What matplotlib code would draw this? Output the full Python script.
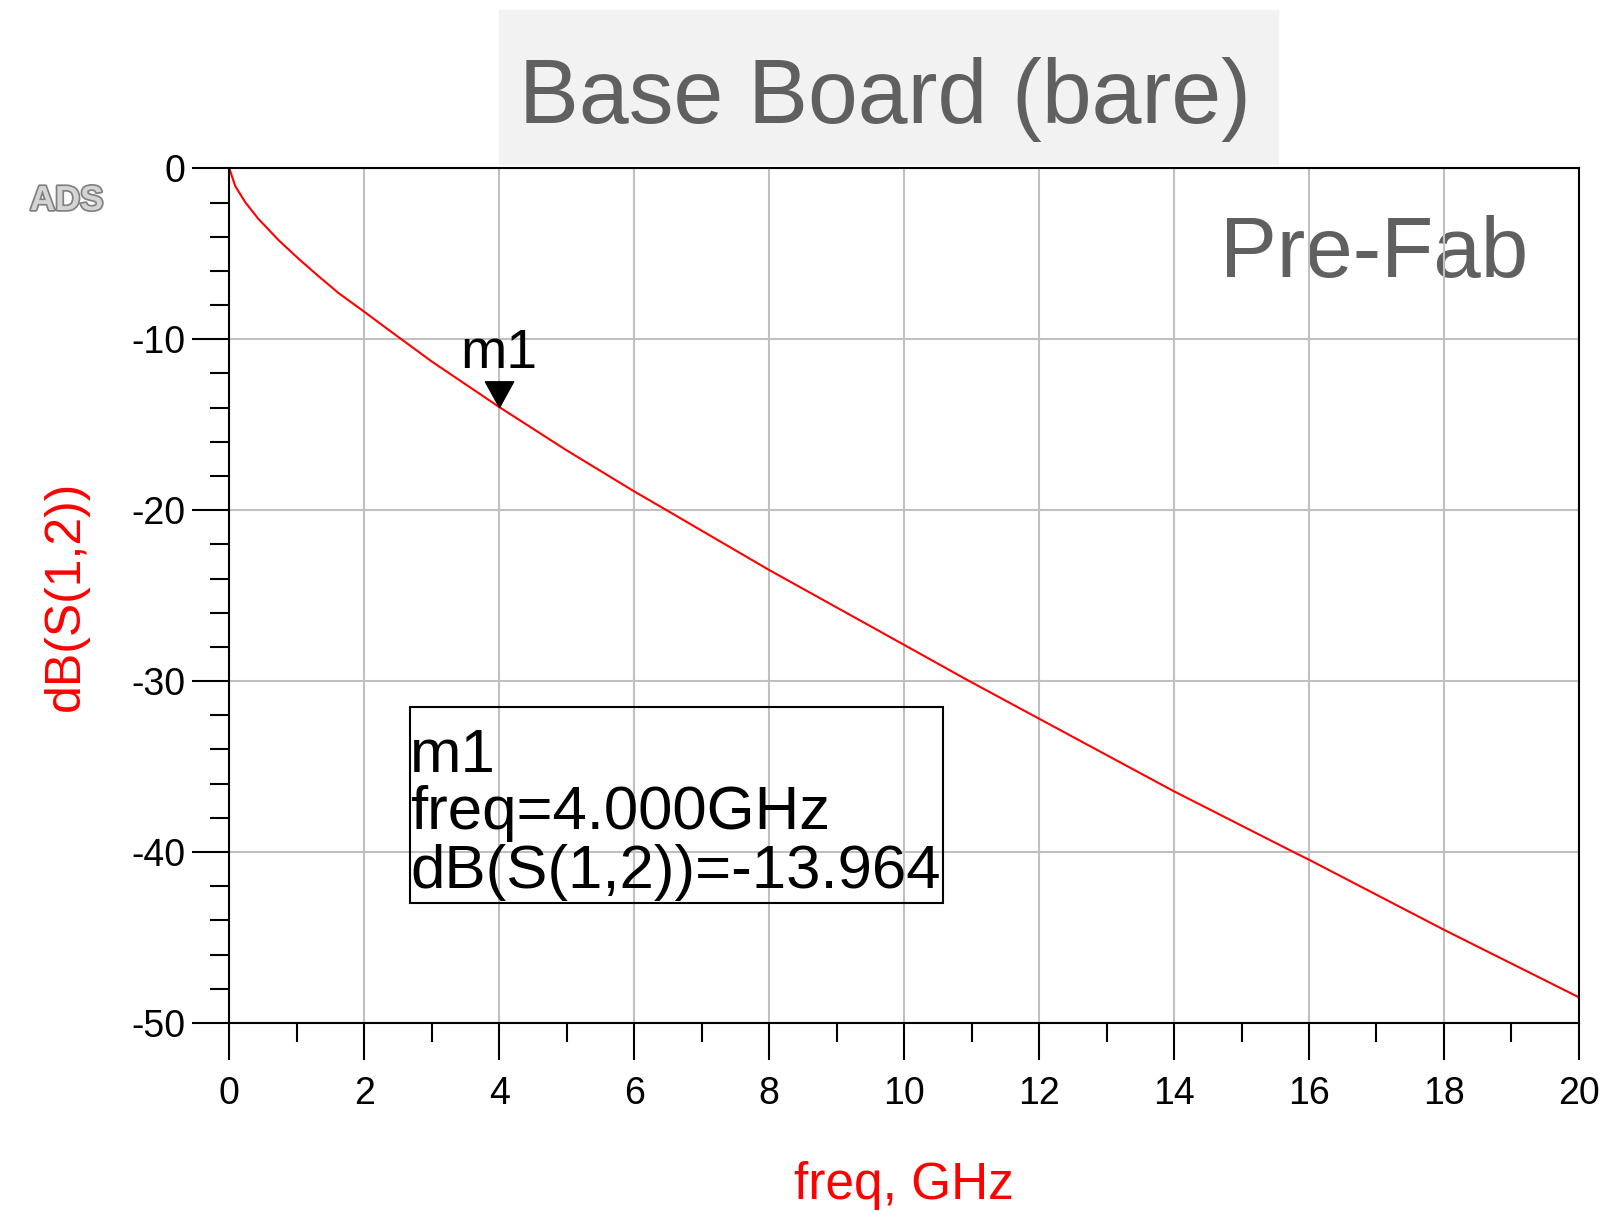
import matplotlib
matplotlib.use("Agg")
import matplotlib.pyplot as plt
import matplotlib.patheffects as pe
from matplotlib.patches import Rectangle

plt.rcParams['font.family'] = ['Liberation Sans', 'DejaVu Sans']
plt.rcParams['axes.unicode_minus'] = False

# values
freq_ghz = [0.0, 0.09, 0.24, 0.43, 0.73, 1.03, 1.32, 1.62, 2.0, 2.31, 3.0, 4.0,
            5.0, 6.0, 6.48, 8.0, 10.0, 10.92, 12.0, 14.0, 15.77, 16.0, 18.0, 20.0]
s12_db = [0.0, -1.05, -2.0, -2.95, -4.2, -5.3, -6.3, -7.3, -8.39, -9.3, -11.3, -13.964,
          -16.5, -18.9, -20.0, -23.5, -27.88, -29.9, -32.2, -36.45, -40.0, -40.45, -44.55, -48.5]
m1_freq = 4.0
m1_db = -13.964
xticks = list(range(0, 21, 2))
yticks = [0, -10, -20, -30, -40, -50]

fig = plt.figure(figsize=(16.1, 12.11), dpi=100)
ax = fig.add_axes([0.1424, 0.1553, 0.8383, 0.7057])

ax.plot(freq_ghz, s12_db, color='red', lw=1.5, zorder=2)

ax.set_xlim(0, 20)
ax.set_ylim(-50, 0)
ax.set_xticks(xticks)
ax.set_xticks(range(1, 20, 2), minor=True)
ax.set_yticks(yticks)
ax.set_yticks([v for v in range(-48, 0, 2) if v % 10 != 0], minor=True)
ax.grid(True, which='major', color='#c0c0c0', lw=1.5)
ax.tick_params(which='major', length=26.5, width=1.5, labelsize=27, direction='out')
ax.tick_params(which='minor', length=13.5, width=1.5, direction='out')
ax.tick_params(axis='x', which='major', pad=12)
ax.tick_params(axis='y', which='major', pad=5)
for s in ax.spines.values():
    s.set_linewidth(1.5)
    s.set_color('black')

ax.set_xlabel('freq, GHz', color='red', fontsize=37, va='baseline')
ax.xaxis.set_label_coords(0.5, -0.206)
ax.set_ylabel('dB(S(1,2))', color='red', fontsize=36, va='center')
ax.yaxis.set_label_coords(-0.121, 0.5)

# marker m1
ax.plot([m1_freq], [m1_db], marker=[(0, 0), (-0.55, 1), (0.55, 1), (0, 0)],
        markersize=37, color='black', zorder=4)
ax.annotate('m1', xy=(m1_freq, m1_db), xytext=(0, 28), textcoords='offset points',
            ha='center', va='baseline', fontsize=40)

# marker readout box
ax.add_patch(Rectangle((0.1341, 0.1399), 0.3948, 0.2293, transform=ax.transAxes,
                       fill=False, ec='black', lw=1.5, zorder=3))
lines = ['m1', 'freq=%.3fGHz' % m1_freq, 'dB(S(1,2))=%.3f' % m1_db]
for txt, yy in zip(lines, [0.294, 0.2275, 0.1579]):
    ax.text(0.1341, yy, txt, transform=ax.transAxes, fontsize=44.5,
            ha='left', va='baseline', zorder=3)

ax.text(1528 / 1610, 1 - 277 / 1211, 'Pre-Fab', transform=fig.transFigure,
        ha='right', va='baseline', fontsize=61.5, color='#606060', zorder=0.5)

# title banner
fig.add_artist(Rectangle((0.3099, 0.8646), 0.4839, 0.1269, transform=fig.transFigure,
                         color='#f2f2f2', zorder=0))
fig.text(0.5497, 1 - 123 / 1211, 'Base Board (bare)', ha='center', va='baseline',
         fontsize=64.5, color='#606060')

# ADS logo
fig.text(30 / 1610, 1 - 210 / 1211, 'ADS', fontsize=25, fontweight='bold',
         color='#d4d4d4', ha='left', va='baseline',
         path_effects=[pe.Stroke(linewidth=2.5, foreground='#808080'), pe.Normal()])

fig.savefig('out.png', dpi=100)
